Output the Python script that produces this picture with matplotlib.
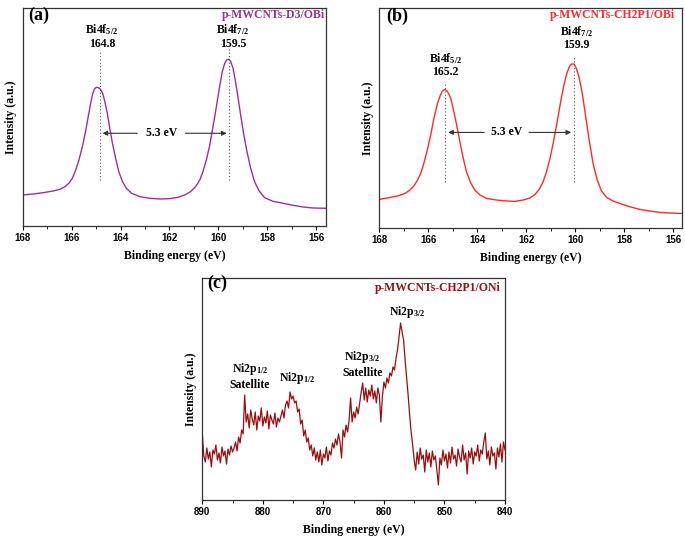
import numpy as np
import matplotlib
matplotlib.use('Agg')
import matplotlib.pyplot as plt
from matplotlib.ticker import MultipleLocator

plt.rcParams['font.family'] = 'Liberation Serif'
plt.rcParams['mathtext.fontset'] = 'custom'
plt.rcParams['mathtext.rm'] = 'Liberation Serif:bold'
plt.rcParams['mathtext.it'] = 'Liberation Serif:bold'
plt.rcParams['mathtext.bf'] = 'Liberation Serif:bold'

# ---- data (intensity in arbitrary units) ----
# (a) p-MWCNTs-D3/OBi, Bi 4f
bi_a_energy = [168.0, 167.56, 167.16, 166.75, 166.48, 166.27, 166.11, 165.97, 165.84, 165.70,
               165.56, 165.43, 165.32, 165.22, 165.14, 165.06, 164.98, 164.90, 164.82, 164.73,
               164.64, 164.54, 164.44, 164.33, 164.20, 164.07, 163.92, 163.76, 163.55, 163.21,
               162.80, 162.39, 161.99, 161.65, 161.37, 161.14, 160.93, 160.76, 160.63, 160.49,
               160.35, 160.22, 160.08, 159.95, 159.84, 159.74, 159.66, 159.58, 159.50, 159.40,
               159.31, 159.20, 159.09, 158.97, 158.83, 158.68, 158.52, 158.34, 158.11, 157.77,
               157.36, 156.95, 156.54, 156.14, 155.62]
bi_a_intensity = [31, 32, 33.3, 35, 36.7, 39.3, 42.7, 47.7, 55.3, 66,
                  79.3, 94.3, 109.3, 122.7, 132, 137.3, 138.7, 138.3, 136.7, 132.7,
                  124.3, 112.7, 97.7, 82.7, 67.7, 54.3, 44.3, 37.7, 32.7, 29.3,
                  27.7, 27, 27.3, 28.7, 31, 34.3, 39.3, 46, 54.3, 66,
                  81, 99.3, 119.3, 139.3, 154.3, 162.7, 166, 166.7, 164.7, 157.7,
                  146, 129.3, 111, 92.7, 74.3, 57.7, 44.3, 35.3, 28.3, 24.7,
                  22.7, 20.7, 19, 18, 17.7]
bi_a_peaks = [164.85, 159.55]
bi_a_labels = [('Bi4f$_{5/2}$', '164.8'), ('Bi4f$_{7/2}$', '159.5')]

# (b) p-MWCNTs-CH2P1/OBi, Bi 4f
bi_b_energy = [168.0, 167.56, 167.22, 166.95, 166.75, 166.59, 166.45, 166.31, 166.18, 166.04,
               165.90, 165.77, 165.63, 165.52, 165.43, 165.35, 165.27, 165.17, 165.07, 164.97,
               164.84, 164.71, 164.57, 164.44, 164.27, 164.10, 163.89, 163.62, 163.21, 162.80,
               162.46, 162.12, 161.85, 161.65, 161.47, 161.31, 161.17, 161.03, 160.90, 160.76,
               160.63, 160.49, 160.35, 160.24, 160.15, 160.05, 159.95, 159.84, 159.71, 159.58,
               159.43, 159.27, 159.10, 158.93, 158.72, 158.45, 158.11, 157.77, 157.36, 156.95,
               156.54, 156.14, 155.66]
bi_b_intensity = [28.3, 30.3, 32, 34.3, 37.7, 41.7, 47, 54.3, 64.3, 77.7,
                  92.7, 109.3, 123.7, 131.7, 136.3, 138, 137.7, 134.3, 128.3, 117.7,
                  102.7, 86, 69.3, 56, 45, 37.7, 32.7, 29.3, 27.7, 26.7,
                  26.3, 27.7, 29.7, 33, 38.3, 46, 56, 69.3, 84.3, 102.7,
                  121, 139.3, 153.7, 161, 163.7, 163.7, 159.3, 150.3, 134.3, 112.7,
                  87.7, 64.3, 47.7, 37, 30.3, 26.7, 23.7, 21, 18.3, 16.7,
                  15.3, 14.7, 14.3]
bi_b_peaks = [165.3, 160.05]
bi_b_labels = [('Bi4f$_{5/2}$', '165.2'), ('Bi4f$_{7/2}$', '159.9')]

# (c) p-MWCNTs-CH2P1/ONi, Ni 2p (0.25 eV steps from 890 to 840 eV)
ni_intensity = [
    67, 44, 38, 52, 41, 48, 33, 50, 46, 55, 40, 47, 37, 53, 44, 49, 36, 51, 45, 54, 48,
    52, 58, 49, 63, 57, 70, 66,
    105,
    78, 86, 72, 90, 81, 75, 88, 70, 84, 79, 92, 74, 83, 77, 89, 71, 85, 80, 76, 87, 73, 82, 78,
    84, 90, 82, 95, 99, 92, 108, 101,
    104, 97, 99, 88, 91,
    76, 80, 64, 70, 58, 62, 50,
    55, 44, 52, 40, 48, 38, 50, 35, 46, 42, 53, 39, 49, 45, 57,
    52, 61, 55, 66, 58, 42, 70, 63, 75, 68, 80, 102, 78, 88, 82, 93, 86, 97,
    108, 117, 100, 112, 98, 110, 104, 115, 101, 109, 97, 112, 105, 78, 103,
    118, 112, 122, 117, 127, 124, 133, 130, 142, 150, 163,
    177, 168, 160, 140, 123, 105, 85, 68, 55, 40,
    30, 48, 36, 52, 41, 45, 28, 50, 38, 47, 33, 49, 40, 44, 30, 15, 42, 35, 50, 39,
    46, 32, 48, 37, 53, 41, 45, 34, 51, 43, 38, 55, 40, 47, 26, 49, 42, 52, 36, 48,
    44, 55, 39, 50, 46, 58, 67, 41, 49, 35, 53, 44, 47, 31, 52, 43, 56, 38, 58, 50,
]
ni_energy = np.linspace(890, 840, len(ni_intensity))
ni_labels = [('Ni2p$_{1/2}$\nSatellite', 882.1, 124),
             ('Ni2p$_{1/2}$', 874.4, 122),
             ('Ni2p$_{3/2}$\nSatellite', 863.5, 136),
             ('Ni2p$_{3/2}$', 856.2, 188)]

tick_font = dict(family='Liberation Sans', weight='bold', size=7)


def style_axis(ax, xlim, ylim, minor):
    ax.set_xlim(*xlim)
    ax.set_ylim(*ylim)
    ax.set_yticks([])
    ax.xaxis.set_minor_locator(MultipleLocator(minor))
    ax.tick_params(axis='x', which='major', direction='out', length=3, width=0.8, pad=2)
    ax.tick_params(axis='x', which='minor', direction='out', length=2, width=0.6)
    for lab in ax.get_xticklabels():
        lab.set_fontproperties(tick_font)
    for s in ax.spines.values():
        s.set_linewidth(0.9)
        s.set_color('#333333')
    ax.set_xlabel('Binding energy (eV)', fontsize=8.5, fontweight='bold', labelpad=5)
    ax.set_ylabel('Intensity (a.u.)', fontsize=8.5, fontweight='bold', labelpad=4)


def bi_annotations(ax, peaks, tops, arrow_y, text_x, gap):
    # dotted peak markers and the 5.3 eV splitting arrows
    for p, top in zip(peaks, tops):
        ax.plot([p, p], [46, top], ls=(0, (1, 2)), color='#555555', lw=0.8)
    ax.text(text_x, arrow_y, '5.3 eV', ha='center', va='center', fontsize=8.5, fontweight='bold')
    ax.annotate('', xy=(peaks[0], arrow_y), xytext=(text_x + gap, arrow_y),
                arrowprops=dict(arrowstyle='-|>', color='#333333', lw=0.8, mutation_scale=7))
    ax.annotate('', xy=(peaks[1], arrow_y), xytext=(text_x - gap, arrow_y),
                arrowprops=dict(arrowstyle='-|>', color='#333333', lw=0.8, mutation_scale=7))


fig = plt.figure(figsize=(6.85, 5.41), dpi=100)

# (a)
ax_a = fig.add_axes([0.0331, 0.5823, 0.4428, 0.4030])
ax_a.plot(bi_a_energy, bi_a_intensity, color='#9b309b', lw=1.0)
style_axis(ax_a, (168, 155.6), (0, 218), 1)
bi_annotations(ax_a, bi_a_peaks, [174, 178], 92.7, 162.33, 0.87)
for (name, val), x in zip(bi_a_labels, [164.76, 159.4]):
    ax_a.text(x, 196, name, ha='center', va='center', fontsize=8.5, fontweight='bold')
    ax_a.text(x, 182, val, ha='center', va='center', fontsize=8.5, fontweight='bold')
ax_a.text(0.017, 0.968, '(a)', transform=ax_a.transAxes, ha='left', va='center',
          fontsize=13, fontweight='bold')
ax_a.text(0.997, 0.968, 'p-MWCNTs-D3/OBi', transform=ax_a.transAxes, ha='right', va='center',
          fontsize=8.5, fontweight='bold', color='#9b309b')

# (b)
ax_b = fig.add_axes([0.5537, 0.5791, 0.4415, 0.4061])
ax_b.plot(bi_b_energy, bi_b_intensity, color='#ff2a2a', lw=1.0)
style_axis(ax_b, (168, 155.65), (0, 219.7), 1)
bi_annotations(ax_b, bi_b_peaks, [146, 171], 95.3, 162.8, 0.8)
for (name, val), x, y in zip(bi_b_labels, [165.3, 159.95], [169, 196]):
    ax_b.text(x, y, name, ha='center', va='center', fontsize=8.5, fontweight='bold')
    ax_b.text(x, y - 13.5, val, ha='center', va='center', fontsize=8.5, fontweight='bold')
ax_b.text(0.024, 0.964, '(b)', transform=ax_b.transAxes, ha='left', va='center',
          fontsize=13, fontweight='bold')
ax_b.text(0.978, 0.968, 'p-MWCNTs-CH2P1/OBi', transform=ax_b.transAxes, ha='right', va='center',
          fontsize=8.5, fontweight='bold', color='#ff2a2a')

# (c)
ax_c = fig.add_axes([0.2953, 0.0758, 0.4419, 0.4104])
ax_c.plot(ni_energy, ni_intensity, color='#990f0f', lw=0.9)
style_axis(ax_c, (890, 840), (0, 222), 5)
for name, x, y in ni_labels:
    ax_c.text(x, y, name, ha='center', va='center', fontsize=8.5, fontweight='bold',
              linespacing=1.3)
ax_c.text(0.016, 0.977, '(c)', transform=ax_c.transAxes, ha='left', va='center',
          fontsize=13, fontweight='bold')
ax_c.text(0.987, 0.955, 'p-MWCNTs-CH2P1/ONi', transform=ax_c.transAxes, ha='right', va='center',
          fontsize=8.5, fontweight='bold', color='#990f0f')

fig.savefig('out.png', dpi=100)
